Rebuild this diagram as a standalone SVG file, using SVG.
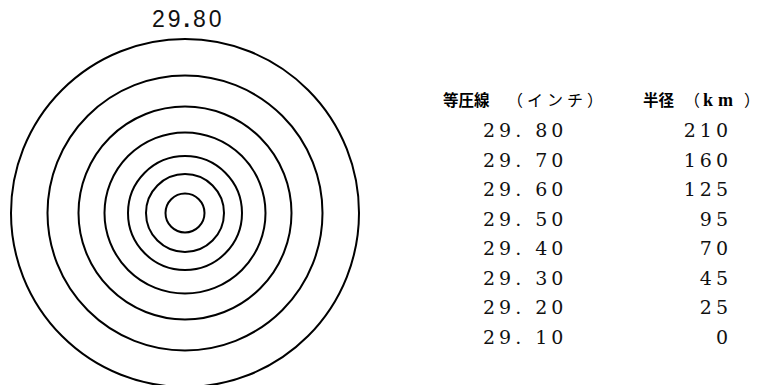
<svg xmlns="http://www.w3.org/2000/svg" width="765" height="385" viewBox="0 0 765 385">
  <style>
    .ring { fill: none; stroke: #000; stroke-width: 2; }
    .title { font-family: "Liberation Sans", Arial, sans-serif; font-size: 23px; fill: #111; letter-spacing: 3px; }
    .hdr { font-family: "Liberation Serif", "Noto Sans CJK JP", serif; font-size: 16px; fill: #000; }
    .kanji { font-family: "Noto Sans CJK JP", sans-serif; font-weight: 700; font-size: 15.5px; }
    .kana { font-family: "Noto Sans CJK JP", sans-serif; font-weight: 400; font-size: 16px; }
    .cjk { font-family: "Noto Sans CJK JP", sans-serif; font-weight: 400; font-size: 16px; }
    .unit { font-family: "Liberation Serif", serif; font-weight: 700; font-size: 18px; }
    .num { font-family: "DejaVu Serif", "Liberation Serif", serif; font-size: 19px; fill: #111; letter-spacing: 4px; }
    .r { text-anchor: end; }
  </style>
  <rect width="765" height="385" fill="#fff"/>
  <g id="isobars">
    <circle class="ring" cx="185" cy="213" r="174"/>
    <circle class="ring" cx="185" cy="213" r="137.5"/>
    <circle class="ring" cx="185" cy="213" r="106.5"/>
    <circle class="ring" cx="185" cy="213" r="80.5"/>
    <circle class="ring" cx="185" cy="213" r="57"/>
    <circle class="ring" cx="185" cy="213" r="39"/>
    <circle class="ring" cx="185" cy="213" r="19.5"/>
  </g>
  <g id="outer-label">
    <text class="title" x="152" y="27">29<tspan font-weight="bold">.</tspan>80</text>
  </g>
  <g id="table-header">
    <text class="hdr" y="106"><tspan class="kanji" x="443">等圧線</tspan> <tspan class="kana" x="507" letter-spacing="4">（インチ</tspan><tspan class="kana">）</tspan></text>
    <text class="hdr" y="106"><tspan class="kanji" x="643">半径</tspan> <tspan class="cjk" x="684">（</tspan><tspan class="unit" x="703">k</tspan><tspan class="unit" x="718">m</tspan><tspan class="cjk" x="744">）</tspan></text>
  </g>
  <g id="table-pressure">
    <text class="num" x="483" y="137">29. 80</text>
    <text class="num" x="483" y="166.5">29. 70</text>
    <text class="num" x="483" y="196">29. 60</text>
    <text class="num" x="483" y="225.5">29. 50</text>
    <text class="num" x="483" y="255">29. 40</text>
    <text class="num" x="483" y="284.5">29. 30</text>
    <text class="num" x="483" y="314">29. 20</text>
    <text class="num" x="483" y="343.5">29. 10</text>
  </g>
  <g id="table-radius">
    <text class="num r" x="732" y="137">210</text>
    <text class="num r" x="732" y="166.5">160</text>
    <text class="num r" x="732" y="196">125</text>
    <text class="num r" x="732" y="225.5">95</text>
    <text class="num r" x="732" y="255">70</text>
    <text class="num r" x="732" y="284.5">45</text>
    <text class="num r" x="732" y="314">25</text>
    <text class="num r" x="732" y="343.5">0</text>
  </g>
</svg>
